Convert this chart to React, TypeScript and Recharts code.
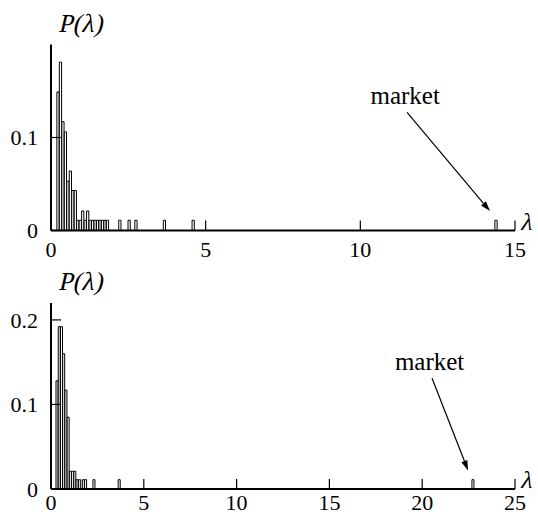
import React from "react"
import {
  Bar,
  ComposedChart,
  ReferenceDot,
  ReferenceLine,
  XAxis,
  YAxis,
} from "recharts"

// upper panel: eigenvalue spectrum, lambda from 0 to 15
const topLambda = [
  0.23, 0.31, 0.39, 0.47, 0.55, 0.63, 0.71, 0.79, 0.87, 0.95, 1.03, 1.11, 1.19,
  1.27, 1.35, 1.43, 1.51, 1.59, 1.67, 1.75, 1.83, 2.23, 2.53, 2.75, 3.67, 4.6,
  14.39,
]
const topProb = [
  0.149, 0.181, 0.117, 0.106, 0.053, 0.064, 0.043, 0.043, 0.011, 0.011, 0.021,
  0.011, 0.021, 0.011, 0.011, 0.011, 0.011, 0.011, 0.011, 0.011, 0.011, 0.011,
  0.011, 0.011, 0.011, 0.011, 0.011,
]
const topXTicks = [0, 5, 10, 15]
const topYTicks = [0, 0.1]
const topMarket = { text: [11.45, 0.136], from: [11.51, 0.127], to: [14.19, 0.021] }

// lower panel: lambda from 0 to 25
const bottomLambda = [
  0.33, 0.45, 0.57, 0.69, 0.81, 0.93, 1.05, 1.17, 1.29, 1.41, 1.55, 1.75, 1.87,
  2.32, 3.68, 22.74,
]
const bottomProb = [
  0.128, 0.192, 0.192, 0.16, 0.117, 0.085, 0.021, 0.021, 0.021, 0.011, 0.011,
  0.011, 0.011, 0.011, 0.011, 0.011,
]
const bottomXTicks = [0, 5, 10, 15, 20, 25]
const bottomYTicks = [0, 0.1, 0.2]
const bottomMarket = { text: [20.4, 0.141], from: [20.53, 0.131], to: [22.47, 0.022] }

const FONT = "Liberation Serif"

// no serif italic face installed, so slant the upright glyphs instead
function SlantText({ x, y, size, children }: any) {
  return (
    <text
      transform={`translate(${x},${y}) skewX(-13)`}
      style={{ fontFamily: FONT }}
      fontSize={size}
      fill="#000"
    >
      {children}
    </text>
  )
}

function Arrow(props: any) {
  const { x1, y1, x2, y2 } = props
  const a = Math.atan2(y2 - y1, x2 - x1)
  const len = 10
  const half = 3.2
  const bx = x2 - len * Math.cos(a)
  const by = y2 - len * Math.sin(a)
  const p1 = `${bx + half * Math.sin(a)},${by - half * Math.cos(a)}`
  const p2 = `${bx - half * Math.sin(a)},${by + half * Math.cos(a)}`
  return (
    <g>
      <line x1={x1} y1={y1} x2={bx} y2={by} stroke="#000" strokeWidth={1.2} />
      <polygon points={`${x2},${y2} ${p1} ${p2}`} fill="#000" />
    </g>
  )
}

type PanelProps = {
  lambda: number[]
  prob: number[]
  xTicks: number[]
  yTicks: number[]
  yMax: number
  market: { text: number[]; from: number[]; to: number[] }
  top: number
  bottom: number
  height: number
  axisHeight: number
  labelGap: number
}

function Panel({
  lambda,
  prob,
  xTicks,
  yTicks,
  yMax,
  market,
  top,
  bottom,
  height,
  axisHeight,
  labelGap,
}: PanelProps) {
  const data = lambda.map((l, i) => ({ lambda: l, p: prob[i] }))
  const xMax = xTicks[xTicks.length - 1]
  const tickStyle = {
    fontFamily: FONT,
    fontSize: 22,
    fill: "#000",
    style: { fontFamily: FONT },
  }
  const lineStyle = { stroke: "#000", strokeWidth: 2 }
  const tickLine = { stroke: "#000", strokeWidth: 1.2 }

  return (
    <ComposedChart
      width={538}
      height={height}
      data={data}
      margin={{ top, right: 23, bottom, left: 11 }}
      style={{ fontFamily: FONT }}
    >
      <XAxis
        xAxisId="x"
        dataKey="lambda"
        type="number"
        domain={[0, xMax]}
        ticks={xTicks}
        allowDataOverflow
        height={axisHeight}
        axisLine={lineStyle}
        tickLine={tickLine}
        tickSize={-10}
        tickMargin={labelGap}
        tick={tickStyle}
        label={(props: any) => {
          const vb = props.viewBox
          return (
            <SlantText x={vb.x + vb.width + 5} y={vb.y - 1} size={24}>
              λ
            </SlantText>
          )
        }}
      />
      <XAxis
        xAxisId="top"
        orientation="top"
        type="number"
        domain={[0, xMax]}
        ticks={xTicks}
        allowDataOverflow
        height={0}
        axisLine={lineStyle}
        tickLine={tickLine}
        tickSize={-10}
        tick={false}
      />
      <YAxis
        yAxisId="y"
        type="number"
        domain={[0, yMax]}
        ticks={yTicks}
        allowDataOverflow
        width={40}
        axisLine={lineStyle}
        tickLine={tickLine}
        tickSize={-10}
        tickMargin={23}
        tick={tickStyle}
        label={(props: any) => {
          const vb = props.viewBox
          return (
            <SlantText x={vb.x + vb.width + 7} y={vb.y - 13} size={26}>
              P(λ)
            </SlantText>
          )
        }}
      />
      <YAxis
        yAxisId="right"
        orientation="right"
        type="number"
        domain={[0, yMax]}
        ticks={yTicks}
        allowDataOverflow
        width={0}
        axisLine={lineStyle}
        tickLine={tickLine}
        tickSize={-10}
        tick={false}
      />
      <Bar
        xAxisId="x"
        yAxisId="y"
        dataKey="p"
        barSize={3}
        fill="#fff"
        stroke="#000"
        strokeWidth={1}
        isAnimationActive={false}
      />
      <ReferenceLine
        xAxisId="x"
        yAxisId="y"
        segment={[
          { x: market.from[0], y: market.from[1] },
          { x: market.to[0], y: market.to[1] },
        ]}
        shape={Arrow}
      />
      <ReferenceDot
        xAxisId="x"
        yAxisId="y"
        x={market.text[0]}
        y={market.text[1]}
        r={0}
        shape={(p: any) => (
          <text
            x={p.cx}
            y={p.cy}
            textAnchor="middle"
            style={{ fontFamily: FONT }}
            fontSize={25}
            fill="#000"
          >
            market
          </text>
        )}
      />
    </ComposedChart>
  )
}

export default function App() {
  return (
    <div
      style={{
        position: "absolute",
        left: 0,
        top: 0,
        width: 538,
        height: 514,
        background: "#fff",
        overflow: "hidden",
        fontFamily: FONT,
      }}
    >
      <div style={{ position: "absolute", left: 0, top: 0 }}>
        <Panel
          lambda={topLambda}
          prob={topProb}
          xTicks={topXTicks}
          yTicks={topYTicks}
          yMax={0.2}
          market={topMarket}
          top={44.5}
          bottom={8.5}
          height={265}
          axisHeight={26}
          labelGap={21}
        />
      </div>
      <div style={{ position: "absolute", left: 0, top: 257 }}>
        <Panel
          lambda={bottomLambda}
          prob={bottomProb}
          xTicks={bottomXTicks}
          yTicks={bottomYTicks}
          yMax={0.22}
          market={bottomMarket}
          top={46}
          bottom={0}
          height={257}
          axisHeight={25}
          labelGap={15}
        />
      </div>
    </div>
  )
}
